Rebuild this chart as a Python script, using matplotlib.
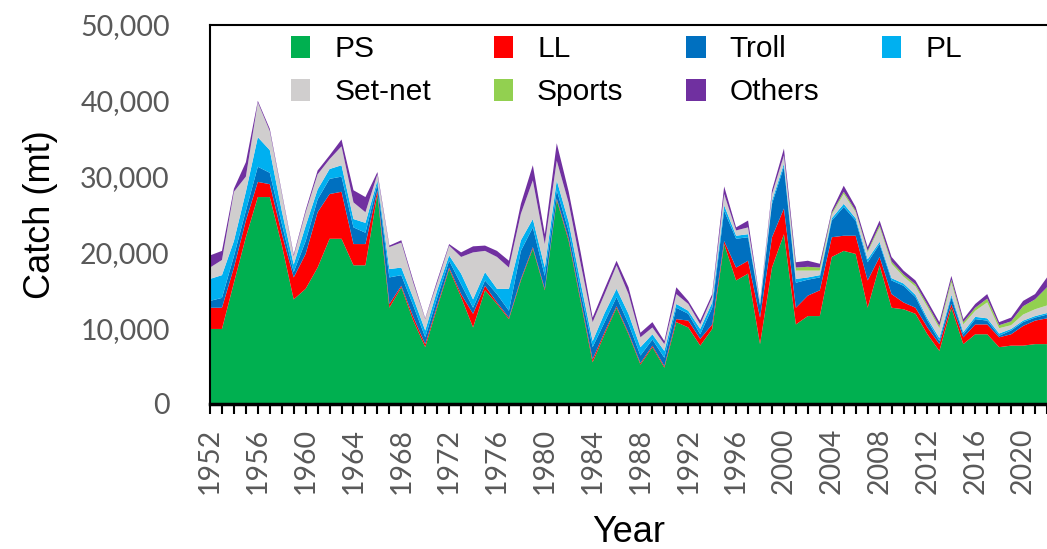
import numpy as np
import matplotlib
matplotlib.use("Agg")
import matplotlib.pyplot as plt
from matplotlib.patches import Patch
from matplotlib.ticker import FuncFormatter

# Catch by gear type (mt), 1952-2022
years = np.arange(1952, 2023)

ps = [9900, 9900, 16000, 22000, 27300, 27300, 21000, 13800, 15200, 18000,
      21800, 21800, 18300, 18300, 27700, 12700, 15400, 11000, 7500, 12700,
      17800, 14100, 10100, 15000, 13200, 11200, 16300, 20500, 15000, 26900,
      21500, 13500, 5500, 9200, 12700, 9200, 5200, 7500, 4800, 10800,
      10100, 7700, 9900, 21100, 16300, 17200, 7900, 18000, 22400, 10500,
      11600, 11600, 19400, 20200, 19800, 12700, 18300, 12700, 12500, 11900,
      9200, 7000, 12700, 7900, 9200, 9200, 7500, 7700, 7700, 7900, 7900]
ll = [2800, 2800, 2000, 2200, 2000, 1700, 1500, 2900, 4600, 7300,
      5900, 6200, 2800, 2800, 500, 500, 200, 500, 400, 300,
      200, 400, 1800, 600, 200, 200, 200, 200, 200, 200,
      300, 300, 400, 300, 200, 200, 200, 200, 200, 400,
      900, 900, 600, 400, 1700, 1700, 3500, 4000, 3400, 2200,
      2700, 3400, 2600, 2000, 2400, 3600, 1100, 1800, 900, 800,
      900, 900, 500, 900, 1300, 1300, 1300, 1500, 2600, 3100, 3400]
troll = [900, 1300, 1500, 1300, 2000, 1500, 1300, 700, 1700, 1700,
         2000, 2000, 2200, 1500, 800, 3500, 1400, 1500, 900, 1000,
         900, 1300, 800, 700, 1100, 900, 3700, 2600, 1700, 1100,
         1000, 1000, 1600, 1300, 1200, 1200, 1000, 800, 1100, 1500,
         900, 600, 2200, 4000, 3800, 3100, 1600, 4400, 5500, 3300,
         2100, 1700, 2200, 3800, 2000, 2400, 1700, 1800, 2200, 1400,
         900, 400, 900, 400, 700, 500, 200, 500, 500, 400, 500]
pl = [2900, 3000, 2000, 2500, 3900, 3000, 1700, 1000, 2000, 1300,
      1300, 1500, 1100, 1300, 500, 1100, 1000, 1000, 900, 1000,
      700, 1400, 1100, 1100, 700, 2900, 1400, 1100, 1100, 1300,
      1200, 1200, 800, 1200, 1100, 1300, 1100, 700, 900, 500,
      400, 700, 700, 700, 400, 400, 200, 400, 400, 500,
      300, 300, 300, 400, 300, 400, 300, 300, 300, 300,
      300, 400, 300, 300, 300, 300, 300, 200, 200, 200, 200]
setnet = [1500, 2000, 6500, 2000, 4600, 2500, 2300, 1100, 1800, 2000,
          1300, 2500, 2200, 1400, 800, 2900, 3300, 2000, 1500, 1000,
          1300, 2200, 6200, 2800, 4200, 2800, 3500, 5100, 3100, 2600,
          2500, 2500, 2500, 2500, 3100, 2600, 1300, 900, 900, 1300,
          900, 600, 700, 1500, 700, 900, 300, 900, 1100, 1100,
          900, 600, 500, 1300, 800, 900, 1900, 1900, 900, 1100,
          1500, 1300, 1600, 1000, 800, 2100, 700, 500, 800, 900, 1000]
sports = [0, 0, 0, 0, 0, 0, 0, 0, 0, 0,
          0, 0, 0, 0, 0, 0, 0, 0, 0, 0,
          0, 0, 0, 0, 0, 0, 0, 0, 0, 0,
          0, 0, 0, 0, 0, 0, 0, 0, 0, 0,
          0, 0, 0, 0, 0, 0, 0, 0, 0, 400,
          500, 400, 200, 300, 200, 200, 300, 300, 300, 300,
          300, 300, 400, 300, 400, 500, 400, 500, 1100, 1300, 2400]
others = [1600, 1200, 400, 1900, 200, 300, 200, 200, 300, 500,
          500, 900, 1600, 2000, 300, 200, 300, 300, 100, 300,
          200, 600, 800, 700, 800, 900, 1300, 2000, 1300, 2300,
          1500, 1500, 600, 700, 600, 900, 600, 700, 400, 900,
          400, 500, 400, 1000, 400, 900, 100, 500, 900, 700,
          800, 500, 300, 800, 500, 500, 600, 600, 500, 500,
          500, 500, 500, 400, 500, 600, 400, 500, 700, 700, 1300]

names = ["PS", "LL", "Troll", "PL", "Set-net", "Sports", "Others"]
colors = ["#00B050", "#FF0000", "#0070C0", "#00B0F0", "#D0CECE", "#92D050", "#7030A0"]

fig = plt.figure(figsize=(10.47, 5.49), dpi=100)
ax = fig.add_axes([210 / 1047, 145 / 549, 837 / 1047, 379 / 549])

ax.stackplot(years, ps, ll, troll, pl, setnet, sports, others,
             colors=colors, linewidth=0)

ax.set_xlim(1952, 2022)
ax.set_ylim(0, 50000)
ax.set_yticks(range(0, 50001, 10000))
ax.yaxis.set_major_formatter(FuncFormatter(lambda v, p: f"{v:,.0f}"))
ax.set_xticks(range(1952, 2023, 4))
ax.set_xticks(years, minor=True)

ax.tick_params(axis="y", length=0, pad=29, labelsize=20.5, labelcolor="#595959")
ax.tick_params(axis="x", which="both", direction="out", length=7, width=1.5,
               color="black", labelsize=20.5, labelcolor="#595959", pad=10,
               labelrotation=90)
for lab in ax.get_xticklabels() + ax.get_yticklabels():
    lab.set_fontfamily("Lato")

for s in ["left", "top"]:
    ax.spines[s].set_linewidth(1.5)
    ax.spines[s].set_color("black")
ax.spines["bottom"].set_linewidth(2.5)
ax.spines["right"].set_color("#e6e6e6")

ax.set_ylabel("Catch (mt)", fontsize=26, family="Liberation Sans", va="center")
ax.yaxis.set_label_coords(-0.203, 0.5)
ax.set_xlabel("Year", fontsize=26, family="Liberation Sans", va="center")
ax.xaxis.set_label_coords(0.5, -0.338)

# legend filled column by column -> reorder so rows read PS, LL, Troll, PL / Set-net, Sports, Others
order = [0, 4, 1, 5, 2, 6, 3]
handles = [Patch(facecolor=colors[i], edgecolor="none") for i in order]
labels = [names[i] for i in order]
ax.legend(handles, labels, loc="upper left", bbox_to_anchor=(291 / 1047, 0.936),
          bbox_transform=fig.transFigure, ncol=4, frameon=False,
          prop={"family": "Liberation Sans", "size": 21.5},
          handlelength=0.65, handleheight=0.75, handletextpad=0.8,
          columnspacing=2.1, labelspacing=0.5, borderpad=0, borderaxespad=0)

fig.savefig("out.png", dpi=100)
